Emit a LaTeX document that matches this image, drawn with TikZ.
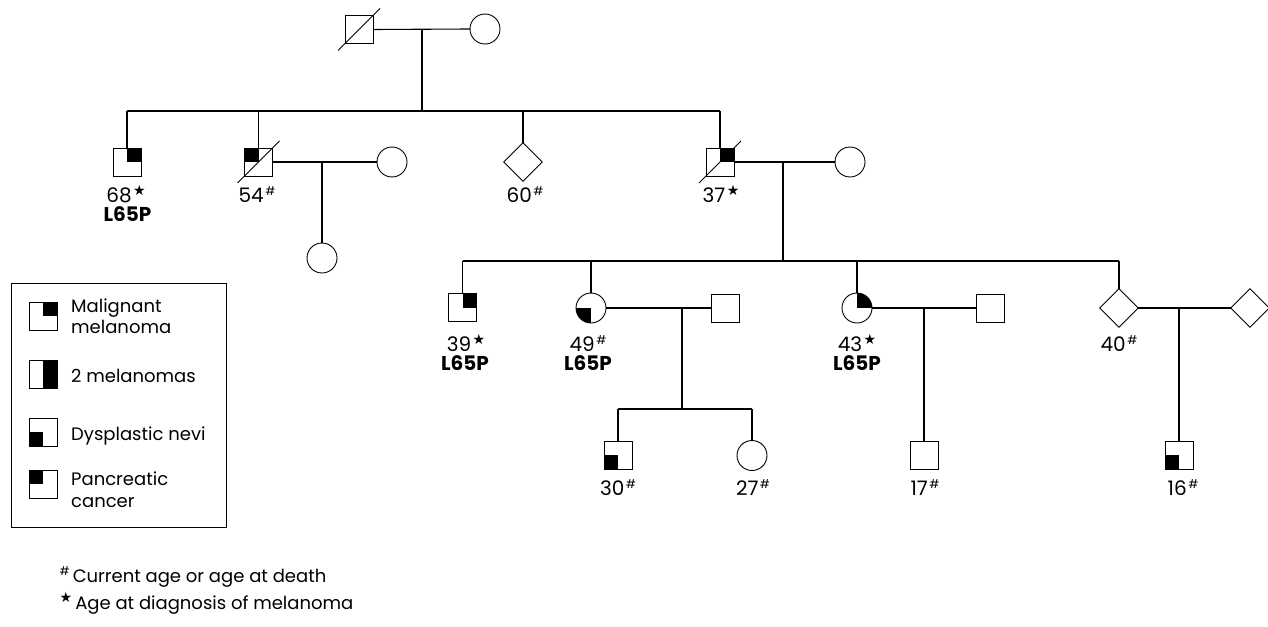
\documentclass[tikz,border=0pt]{standalone}
\usepackage{fontspec}
\setmainfont{Poppins}
\newfontfamily\symfont{DejaVu Sans}
\usetikzlibrary{shapes.geometric}
\newcommand{\myhash}{\kern1.5pt\raisebox{7pt}{\fontsize{12}{12}\selectfont\#}}
\newcommand{\mystar}{\kern1.5pt\raisebox{7pt}{\symfont\fontsize{14}{14}\selectfont ★}}
\tikzset{
  sym/.style={draw, line width=0.9pt, inner sep=0pt, outer sep=0pt, fill=white},
  male/.style={sym, rectangle, minimum size=28pt},
  female/.style={sym, circle, minimum size=30pt},
  unk/.style={sym, diamond, minimum width=38.5pt, minimum height=38.5pt},
  mm/.style={path picture={\fill[black] (path picture bounding box.center) rectangle (path picture bounding box.north east);}},
  dn/.style={path picture={\fill[black] (path picture bounding box.center) rectangle (path picture bounding box.south west);}},
  pc/.style={path picture={\fill[black] (path picture bounding box.center) rectangle (path picture bounding box.north west);}},
  twomm/.style={path picture={\fill[black] (path picture bounding box.north) rectangle (path picture bounding box.south east);}},
  conn/.style={line width=1.1pt},
  lbl/.style={anchor=base, inner sep=0pt, font=\fontsize{20}{22}\selectfont},
  gene/.style={anchor=base, inner sep=0pt, font=\fontsize{20}{22}\selectfont\bfseries},
  txt/.style={anchor=base west, inner sep=0pt, font=\fontsize{18}{22}\selectfont},
}
\newcommand{\deceased}[1]{\draw[line width=0.9pt] ([shift={(-7,7)}]#1.south west) -- ([shift={(7,-7)}]#1.north east);}
\begin{document}
\begin{tikzpicture}[x=1pt,y=-1pt]
\useasboundingbox (0,0) rectangle (1268,626);
% generation I
\node[male] (I1) at (359,29.5) {};
\node[female] (I2) at (485,29) {};
\deceased{I1}
\coordinate (m1) at (422,29);
\coordinate (s1) at (422,111);
\draw[conn] (I1.east) -- (I2.west);
\draw[conn] (m1) -- (s1);
% generation II
\node[male, mm] (II1) at (127,162) {};
\node[male, pc] (II2) at (258.5,162) {};
\deceased{II2}
\node[female] (II2w) at (392,162) {};
\node[female] (II2c) at (322,258) {};
\node[unk] (II3) at (523,162) {};
\node[male, mm] (II4) at (720,162) {};
\deceased{II4}
\node[female] (II4w) at (850,162) {};
\draw[conn] (II1.north |- s1) -- (II4.north |- s1);
\foreach \n in {II1,II2,II3,II4} \draw[conn] (\n.north |- s1) -- (\n.north);
\coordinate (m2) at (322,162);
\draw[conn] (II2.east) -- (II2w.west);
\draw[conn] (m2) -- (II2c.north);
\coordinate (m4) at (783,162);
\coordinate (s4) at (783,261);
\draw[conn] (II4.east) -- (II4w.west);
\draw[conn] (m4) -- (s4);
\node[lbl] (lII1) at (126,202) {68\mystar};
\node[gene] (gII1) at (127.5,221.5) {L65P};
\node[lbl] (lII2) at (257,202) {54\myhash};
\node[lbl] (lII3) at (525,202) {60\myhash};
\node[lbl] (lII4) at (721,202) {37\mystar};
% generation III
\node[male, mm] (III1) at (462.5,307.5) {};
\node[female, dn] (III2) at (591,308) {};
\node[male] (III2h) at (725,308) {};
\node[female, mm] (III3) at (857,308) {};
\node[male] (III3h) at (990,308) {};
\node[unk] (III4) at (1119,308) {};
\node[unk] (III4w) at (1250,308) {};
\draw[conn] (III1.north |- s4) -- (III4.north |- s4);
\foreach \n in {III1,III2,III3,III4} \draw[conn] (\n.north |- s4) -- (\n.north);
\coordinate (m5) at (682,308);
\coordinate (s5) at (682,409);
\draw[conn] (III2.east) -- (III2h.west);
\draw[conn] (m5) -- (s5);
\coordinate (m6) at (924,308);
\draw[conn] (III3.east) -- (III3h.west);
\coordinate (m7) at (1179,308);
\draw[conn] (III4.east) -- (III4w.west);
\node[lbl] (lIII1) at (466,351) {39\mystar};
\node[gene] (gIII1) at (465,370.5) {L65P};
\node[lbl] (lIII2) at (588,351) {49\myhash};
\node[gene] (gIII2) at (588,370.5) {L65P};
\node[lbl] (lIII3) at (857,351) {43\mystar};
\node[gene] (gIII3) at (857,370.5) {L65P};
\node[lbl] (lIII4) at (1119,351) {40\myhash};
% generation IV
\node[male, dn] (IV1) at (618,455) {};
\node[female] (IV2) at (752,455.5) {};
\node[male] (IV3) at (924,455) {};
\node[male, dn] (IV4) at (1179,455) {};
\draw[conn] (IV1.north |- s5) -- (IV2.north |- s5);
\foreach \n in {IV1,IV2} \draw[conn] (\n.north |- s5) -- (\n.north);
\draw[conn] (m6) -- (IV3.north);
\draw[conn] (m7) -- (IV4.north);
\node[lbl] (lIV1) at (618,495) {30\myhash};
\node[lbl] (lIV2) at (753,495) {27\myhash};
\node[lbl] (lIV3) at (925,495) {17\myhash};
\node[lbl] (lIV4) at (1183,495) {16\myhash};
% legend
\draw[line width=0.9pt] (11,283) rectangle (226,527);
\node[male, mm] (k1) at (43,316) {};
\node[male, twomm] (k2) at (43,374) {};
\node[male, dn] (k3) at (43,432) {};
\node[male, pc] (k4) at (43,484) {};
\node[txt] (t1a) at (71,312) {Malignant};
\node[txt] (t1b) at (71,333) {melanoma};
\node[txt] (t2) at (71,382) {2 melanomas};
\node[txt] (t3) at (71,440) {Dysplastic nevi};
\node[txt] (t4a) at (71,485) {Pancreatic};
\node[txt] (t4b) at (71,507) {cancer};
% footnotes
\node[txt] (f1) at (58,582) {\myhash\,Current age or age at death};
\node[txt] (f2) at (58,609) {\mystar\,Age at diagnosis of melanoma};
\end{tikzpicture}
\end{document}
